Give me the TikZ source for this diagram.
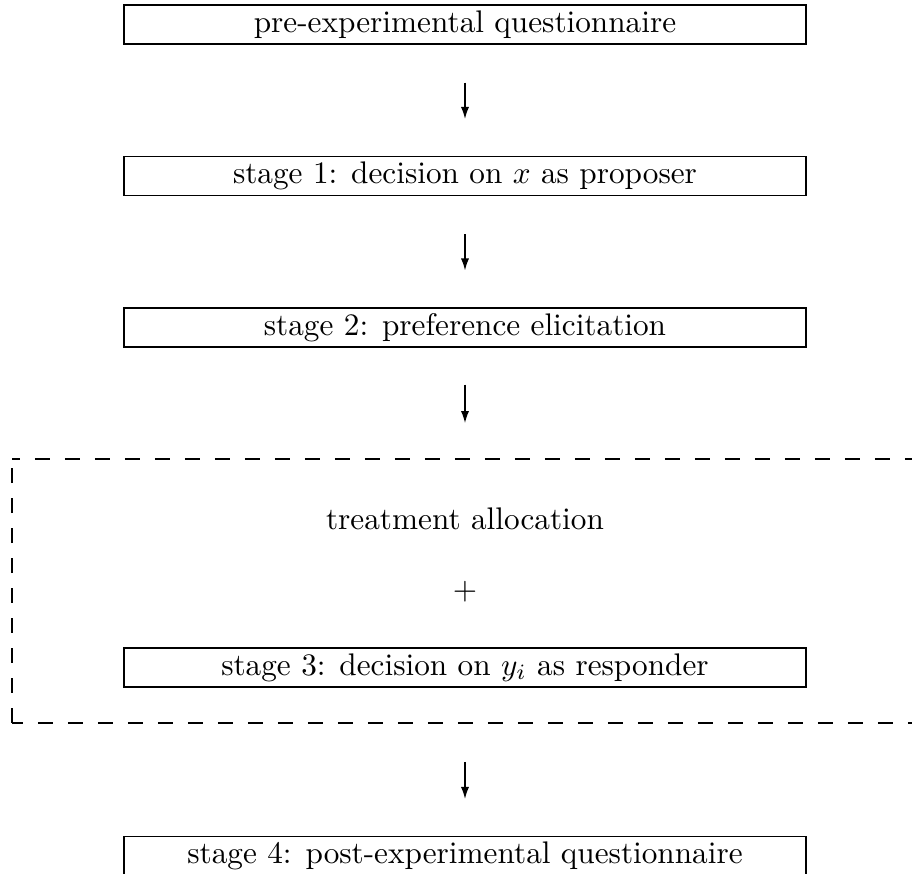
\documentclass[tikz,border=0pt]{standalone}
\usetikzlibrary{arrows.meta}
\begin{document}
\begin{tikzpicture}[x=0.32pt, y=-0.32pt,
  stagebox/.style={draw, line width=0.4pt, minimum width=218.24pt, minimum height=12.48pt, inner sep=0pt, font=\normalsize},
  flow/.style={-{Latex[length=3.8pt,width=2.6pt]}, line width=0.4pt},
  grpline/.style={line width=0.4pt, dash pattern=on 4.8pt off 4.8pt}]
\useasboundingbox (0,0) rectangle (912,874);
\clip (0,0) rectangle (912,874);
\node[stagebox] (b1) at (465,24.5) {pre-experimental questionnaire};
\node[stagebox] (b2) at (465,176) {stage 1: decision on $x$ as proposer};
\node[stagebox] (b3) at (465,327.5) {stage 2: preference elicitation};
\node[inner sep=0pt] (ta) at (465,519) {treatment allocation};
\node[inner sep=0pt] (plus) at (465,592) {$+$};
\node[stagebox] (b4) at (465,667.5) {stage 3: decision on $y_i$ as responder};
\node[stagebox] (b5) at (465,856) {stage 4: post-experimental questionnaire};
\coordinate (gtop) at (465,459);
\coordinate (gbot) at (465,723);
\coordinate (gtl) at (12,459);
\coordinate (gbl) at (12,723);
\coordinate (gtr) at (930,459);
\coordinate (gbr) at (930,723);
\draw[grpline] (gbl) -- (gtl);
\draw[grpline, dash phase=2.24pt] (gtl) -- (gtr);
\draw[grpline, dash phase=1.28pt] (gbl) -- (gbr);
\draw[flow, shorten <=12.16pt, shorten >=11.84pt] (b1.south) -- (b2.north);
\draw[flow, shorten <=12.16pt, shorten >=11.84pt] (b2.south) -- (b3.north);
\draw[flow, shorten <=11.84pt, shorten >=11.52pt] (b3.south) -- (gtop);
\draw[flow, shorten <=12.48pt, shorten >=11.84pt] (gbot) -- (b5.north);
\end{tikzpicture}
\end{document}
